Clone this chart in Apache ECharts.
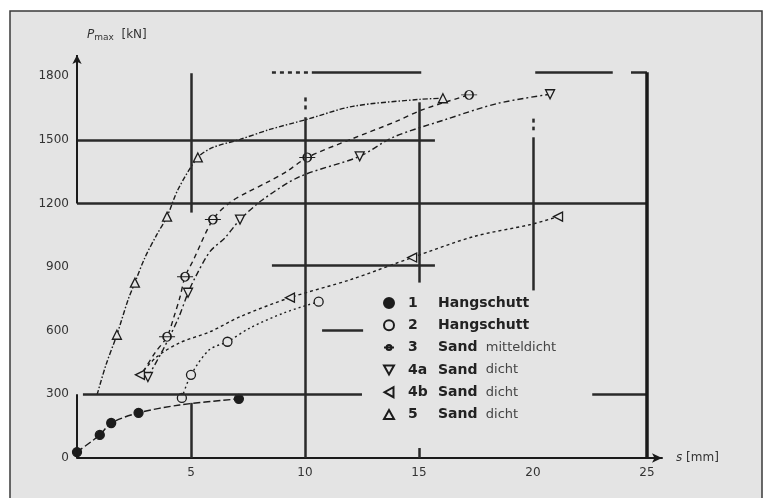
<!DOCTYPE html>
<html>
<head>
<meta charset="utf-8">
<script src="https://cdn.jsdelivr.net/npm/echarts@6/dist/echarts.min.js"></script>
<style>html,body{margin:0;padding:0;background:#fff}#c{width:772px;height:498px}</style>
</head>
<body>
<div id="c"></div>
<script>
// ---- data ----
const xTickLabels = ['', '5', '10', '15', '20', '25'];
const yTickLabels = ['0', '300', '600', '900', '1200', '1500', '1800'];
const seriesNames = ['1', '2', '3', '4a', '4b', '5'];
const soilNames = ['Hangschutt', 'Hangschutt', 'Sand  mitteldicht', 'Sand  dicht', 'Sand  dicht', 'Sand  dicht'];

const s1 = [[0,28],[1.0,109],[1.5,165],[2.7,213],[4.5,250],[7.1,279]];
const s1Marks = [1,1,1,1,0,1];
const s2 = [[4.6,283],[5.0,392],[5.8,510],[6.6,548],[7.6,614],[9.1,685],[10.6,737]];
const s2Marks = [1,1,0,1,0,0,1];
const s3 = [[2.9,406],[3.42,496],[3.95,572],[4.25,665],[4.52,760],[4.74,855],[5.09,930],[5.96,1124],[6.7,1204],[7.46,1252],[8.33,1299],[9.2,1351],[10.1,1417],[12.0,1502],[14.0,1587],[15.2,1644],[17.2,1712]];
const s3Marks = [0,0,1,0,0,1,0,1,0,0,0,0,1,0,0,0,1];
const s4a = [[3.11,382],[3.77,510],[4.45,660],[4.87,779],[5.18,850],[5.83,973],[6.5,1039],[7.15,1124],[8.16,1219],[9.78,1327],[12.4,1422],[13.86,1512],[16.2,1597],[18.46,1672],[20.75,1715]];
const s4aMarks = [1,0,0,1,0,0,0,1,0,0,1,0,0,0,1];
const s4b = [[2.76,392],[3.5,477],[4.5,543],[5.83,595],[7.15,666],[9.34,756],[12.0,841],[14.7,945],[17.4,1044],[19.9,1101],[21.1,1138]];
const s4bMarks = [1,0,0,0,0,1,0,1,0,0,1];
const s5 = [[0.88,298],[1.27,439],[1.75,581],[2.24,746],[2.54,827],[2.98,945],[3.5,1053],[3.95,1138],[4.43,1266],[5.3,1417],[5.96,1464],[7.15,1502],[8.46,1549],[10.1,1597],[12.1,1658],[15.04,1691],[16.05,1696]];
const s5Marks = [0,0,1,0,1,0,0,1,0,1,0,0,0,0,0,0,1];

// heavy scan lines (data coordinates): [x1,y1,x2,y2]
const heavySegments = [
  [0,1500,15.7,1500],
  [0,1200,25,1200],
  [5,1814,5,1157],
  [5,260,5,0],
  [10,1606,10,0],
  [15,1677,15,827],
  [15,47,15,0],
  [20,1512,20,790],
  [20.1,1819,23.5,1819],
  [24.3,1819,25,1819],
  [10.3,1819,15.1,1819],
  [0.26,300,12.5,300],
  [22.6,300,25,300],
  [8.55,907,15.7,907],
  [10.75,600,12.55,600]
];
const thickSegments = [[25,1819,25,0]];
const dashedSegments = [[8.55,1819,10.2,1819],[10,1700,10,1625],[20,1600,20,1545]];
const yAxisTop = [[0,1200,0,1900]];
const yAxisBottom = [[0,300,0,0]];

// ---- chart ----
const INK = '#1c1c1c';
const BG = '#e4e4e4';
const symbols = {
  '1': 'circle',
  '2': 'circle',
  '3': 'path://M-8,0 L-4,0 M4,0 L8,0 M4,0 A4,4 0 1 1 -4,0 A4,4 0 1 1 4,0 Z M-4,0 L4,0',
  '4a': 'path://M0,0 L10,0 L5,9 Z',
  '4b': 'path://M9,0 L9,10 L0,5 Z',
  '5': 'path://M5,0 L10,9 L0,9 Z'
};
const dashes = {
  '1': [7,3],
  '2': [2,3],
  '3': [5,4],
  '4a': [6,3,2,3],
  '4b': [3,3],
  '5': [5,2,1.5,2]
};
const datasets = [[s1,s1Marks],[s2,s2Marks],[s3,s3Marks],[s4a,s4aMarks],[s4b,s4bMarks],[s5,s5Marks]];

function seg(list, style) {
  return list.map(s => [
    {coord:[s[0],s[1]], symbol:'none', lineStyle: style},
    {coord:[s[2],s[3]], symbol:'none'}
  ]);
}

const curveSeries = seriesNames.map((n, i) => {
  const [pts, marks] = datasets[i];
  return {
    name: n,
    type: 'line',
    smooth: 0.3,
    symbol: symbols[n],
    symbolSize: n === '3' ? [16, 9] : 9,
    showAllSymbol: true,
    data: pts.map((p, j) => marks[j] ? {value: p} : {value: p, symbol: 'none'}),
    lineStyle: {color: INK, width: 1.4, type: dashes[n]},
    itemStyle: {color: n === '1' ? INK : BG, borderColor: INK, borderWidth: 1.3},
    emphasis: {disabled: true},
    z: 3
  };
});

const lineBase = {color: '#2a2a2a', width: 2.5, type: 'solid'};
const helper = {
  name: 'frame',
  type: 'line',
  data: [],
  silent: true,
  markLine: {
    silent: true,
    symbol: ['none', 'none'],
    label: {show: false},
    emphasis: {disabled: true},
    lineStyle: lineBase,
    data: [].concat(
      seg(heavySegments, lineBase),
      seg(thickSegments, {color: '#1a1a1a', width: 3.5, type: 'solid'}),
      seg(dashedSegments, {color: '#2a2a2a', width: 2.5, type: [4, 4]}),
      seg(yAxisBottom, {color: '#1a1a1a', width: 2, type: 'solid'}),
      yAxisTop.map(s => [
        {coord:[s[0],s[1]], symbol:'none', lineStyle:{color:'#1a1a1a', width:2, type:'solid'}},
        {coord:[s[2],s[3]], symbol:'arrow', symbolSize:[7, 9]}
      ])
    )
  },
  z: 2
};

const chart = echarts.init(document.getElementById('c'), null, {renderer: 'canvas'});
chart.setOption({
  backgroundColor: '#ffffff',
  animation: false,
  textStyle: {fontFamily: 'DejaVu Sans'},
  graphic: [{
    type: 'rect', z: -10, silent: true,
    shape: {x: 10, y: 11, width: 752, height: 492},
    style: {fill: BG, stroke: '#3a3a3a', lineWidth: 1.5}
  }],
  grid: {left: 77, right: 110, top: 55, bottom: 40},
  xAxis: {
    type: 'value', min: 0, max: 25.66, interval: 5,
    axisLine: {show: true, symbol: ['none', 'arrow'], symbolSize: [7, 10], lineStyle: {color: '#1a1a1a', width: 2}},
    axisTick: {show: false},
    splitLine: {show: false},
    axisLabel: {
      margin: 9, color: '#333', fontSize: 12, fontFamily: 'DejaVu Sans',
      formatter: v => (v % 5 === 0 ? xTickLabels[v / 5] || '' : '')
    },
    name: '{i|s} [mm]',
    nameLocation: 'end', nameGap: 14,
    nameTextStyle: {color: '#333', fontSize: 12, align: 'left', rich: {i: {fontStyle: 'italic', fontSize: 12, color: '#333'}}}
  },
  yAxis: {
    type: 'value', min: 0, max: 1900, interval: 300,
    axisLine: {show: false},
    axisTick: {show: false},
    splitLine: {show: false},
    axisLabel: {
      margin: 8, color: '#333', fontSize: 12, fontFamily: 'DejaVu Sans',
      formatter: v => (v % 300 === 0 ? yTickLabels[v / 300] || '' : '')
    },
    name: '{i|P}{s|max}  [kN]',
    nameLocation: 'end', nameGap: 13,
    nameTextStyle: {color: '#333', fontSize: 12, align: 'left', padding: [0, 0, 0, 10],
      rich: {i: {fontStyle: 'italic', fontSize: 12, color: '#333'}, s: {fontSize: 9, color: '#333', verticalAlign: 'bottom', padding: [6, 0, 0, 0]}}}
  },
  legend: {
    orient: 'vertical', left: 383, top: 295, padding: 0,
    itemWidth: 10, itemHeight: 10, itemGap: 6.3,
    data: seriesNames.map(n => ({name: n, icon: symbols[n]})),
    formatter: name => {
      const i = seriesNames.indexOf(name);
      const parts = soilNames[i].split('  ');
      return '{s|}{n|' + name + '}{t|' + parts[0] + '}' + (parts[1] ? '{u|  ' + parts[1] + '}' : '');
    },
    textStyle: {
      lineHeight: 16,
      rich: {
        s: {width: 9},
        n: {width: 30, fontSize: 14, fontWeight: 'bold', color: '#222', fontFamily: 'DejaVu Sans'},
        t: {fontSize: 14, fontWeight: 'bold', color: '#222', fontFamily: 'DejaVu Sans'},
        u: {fontSize: 13, color: '#444', fontFamily: 'DejaVu Sans'}
      }
    },
    selectedMode: false
  },
  series: curveSeries.concat([helper])
});
</script>
</body>
</html>
